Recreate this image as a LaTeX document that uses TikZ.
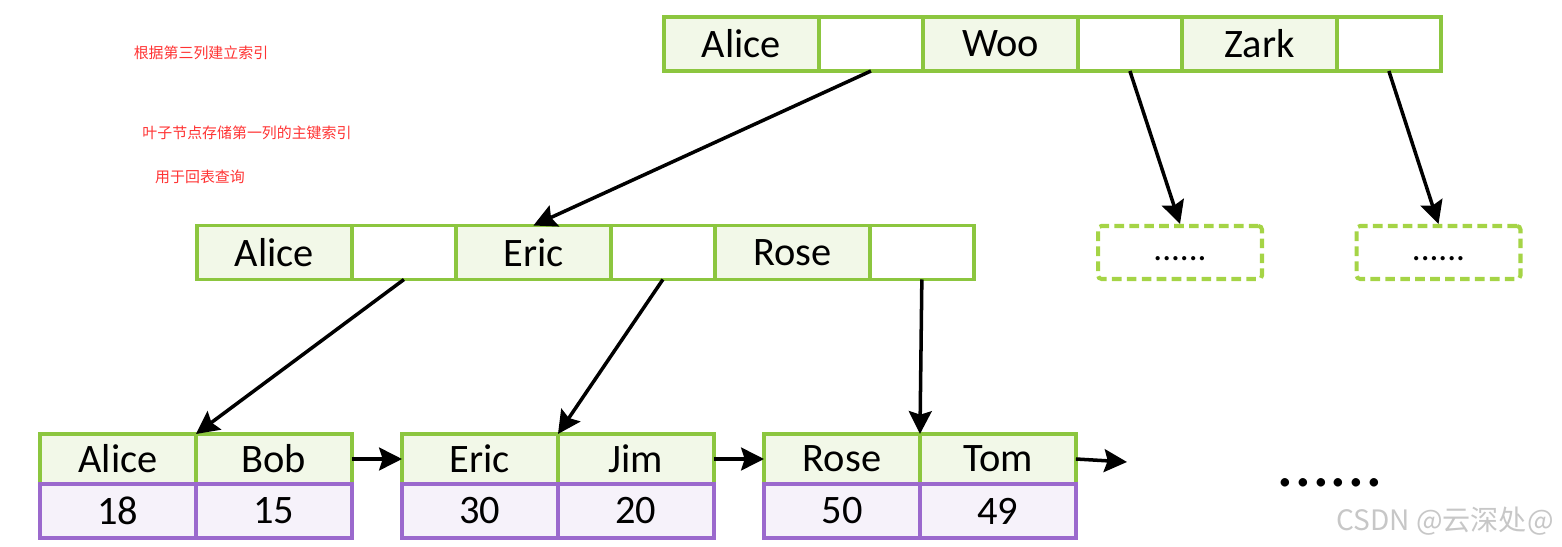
\documentclass[tikz,border=0pt]{standalone}
\usepackage{fontspec}
\setmainfont{Carlito}
\newfontfamily\zhfont{Noto Sans CJK SC}
\usetikzlibrary{positioning,arrows.meta}

\definecolor{keygreen}{RGB}{140,198,63}
\definecolor{keyfill}{RGB}{242,248,232}
\definecolor{rowpurple}{RGB}{155,105,205}
\definecolor{rowfill}{RGB}{246,242,250}
\definecolor{dashgreen}{RGB}{165,212,70}
\definecolor{notered}{RGB}{255,51,51}

\tikzset{
  cell/.style={draw, line width=2.2pt, outer sep=0pt, inner sep=0pt,
    minimum height=1.08cm, font=\fontsize{23}{26}\selectfont},
  keycell/.style={cell, draw=keygreen, fill=keyfill, minimum width=3.1cm},
  ptrcell/.style={cell, draw=keygreen, fill=white, minimum width=2.08cm},
  leafkey/.style={cell, draw=keygreen, fill=keyfill, minimum width=3.12cm, minimum height=1.0cm},
  leafval/.style={cell, draw=rowpurple, fill=rowfill, minimum width=3.12cm},
  morebox/.style={draw=dashgreen, line width=2.3pt, dash pattern=on 5.5pt off 3pt,
    rounded corners=2pt, minimum width=3.28cm, minimum height=1.06cm,
    text height=9pt, text depth=0pt, font=\fontsize{20}{24}\selectfont},
  link/.style={line width=2pt, -{Stealth[length=13pt,width=13pt,inset=2pt]}},
  note/.style={text=notered, font=\zhfont\fontsize{8.5}{10}\selectfont}
}

\begin{document}
\begin{tikzpicture}[x=0.02cm, y=-0.02cm]
  \useasboundingbox (0,0) rectangle (1562,547);

  % notes
  \node[note] (n1) at (201,53) {根据第三列建立索引};
  \node[note] (n2) at (247,133) {叶子节点存储第一列的主键索引};
  \node[note] (n3) at (200,177) {用于回表查询};

  % root
  \node[keycell, anchor=west] (t1) at (664,44) {Alice};
  \node[ptrcell, right=0pt of t1] (t2) {};
  \node[keycell, right=0pt of t2] (t3) {Woo};
  \node[ptrcell, right=0pt of t3] (t4) {};
  \node[keycell, right=0pt of t4] (t5) {Zark};
  \node[ptrcell, right=0pt of t5] (t6) {};

  % inner node
  \node[keycell, anchor=west] (m1) at (197,252.5) {Alice};
  \node[ptrcell, right=0pt of m1] (m2) {};
  \node[keycell, right=0pt of m2] (m3) {Eric};
  \node[ptrcell, right=0pt of m3] (m4) {};
  \node[keycell, right=0pt of m4] (m5) {Rose};
  \node[ptrcell, right=0pt of m5] (m6) {};

  % other subtrees
  \node[morebox] (d1) at (1180,252.5) {......};
  \node[morebox] (d2) at (1438.5,252.5) {......};

  % leaves
  \node[leafkey, anchor=west] (l1a) at (40,459) {Alice};
  \node[leafkey, right=0pt of l1a] (l1b) {Bob};
  \node[leafval, below=0pt of l1a] (l1c) {18};
  \node[leafval, below=0pt of l1b] (l1d) {15};

  \node[leafkey, anchor=west] (l2a) at (402,459) {Eric};
  \node[leafkey, right=0pt of l2a] (l2b) {Jim};
  \node[leafval, below=0pt of l2a] (l2c) {30};
  \node[leafval, below=0pt of l2b] (l2d) {20};

  \node[leafkey, anchor=west] (l3a) at (764,459) {Rose};
  \node[leafkey, right=0pt of l3a] (l3b) {Tom};
  \node[leafval, below=0pt of l3a] (l3c) {50};
  \node[leafval, below=0pt of l3b] (l3d) {49};

  \coordinate (l4) at (1127,462);
  \node[font=\fontsize{40}{44}\selectfont, anchor=base] (more) at (1330,486) {......};

  % pointers
  \draw[link] (t2.south) -- (m3.north);
  \draw[link] (t4.south) -- (d1.north);
  \draw[link] (t6.south) -- (d2.north);
  \draw[link] (m2.south) -- (l1a.north east);
  \draw[link] (m4.south) -- (l2a.north east);
  \draw[link] (m6.south) -- (l3a.north east);
  \draw[link] (l1b.east) -- (l2a.west);
  \draw[link] (l2b.east) -- (l3a.west);
  \draw[link] (l3b.east) -- (l4);

  % watermark
  \node[anchor=base west, text=black!22, font=\zhfont\fontsize{16}{19}\selectfont] (wm) at (1330,530) {CSDN @云深处@};

\end{tikzpicture}
\end{document}
